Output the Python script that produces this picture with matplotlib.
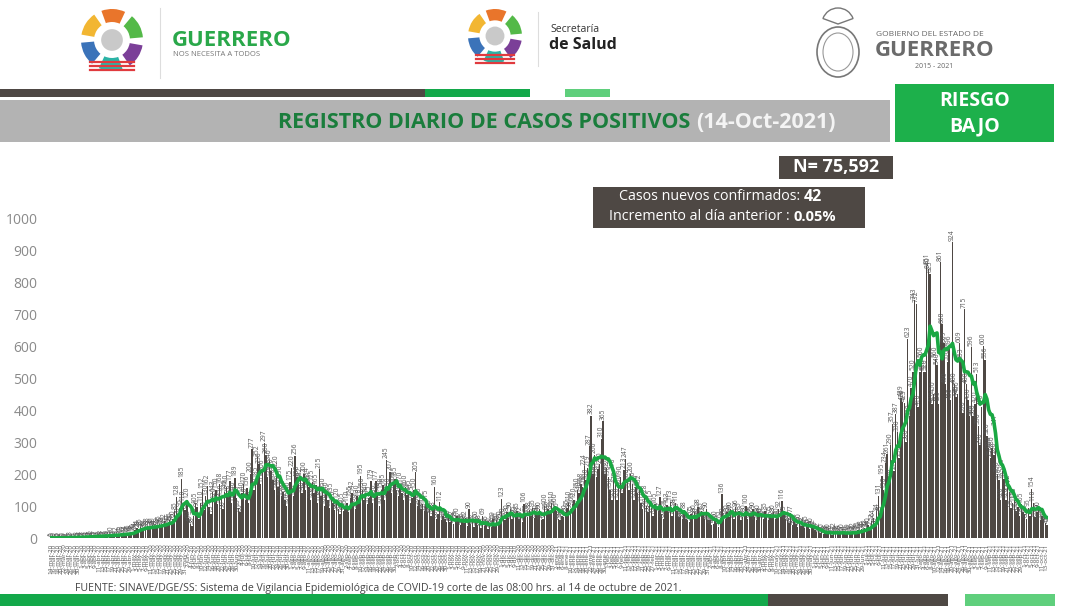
import numpy as np
import pandas as pd
import matplotlib
matplotlib.use("Agg")
import matplotlib.pyplot as plt
import matplotlib.patches as mpatches

# casos positivos diarios, 14-mar-2020 .. 14-oct-2021
mar20 = [1, 0, 0, 1, 0, 2, 1, 0, 1, 2, 1, 3, 2, 1, 2, 3, 2, 4]
abr20 = [3, 2, 5, 4, 3, 6, 4, 5, 7, 3, 6, 8, 5, 7, 9, 6, 8, 10, 7, 9,
         12, 8, 11, 13, 10, 14, 12, 16, 13, 18]
may20 = [20, 24, 31, 28, 35, 30, 26, 33, 38, 29, 36, 41, 34, 30, 39, 45, 37, 43, 52, 40,
         47, 55, 48, 60, 85, 128, 70, 95, 185, 110, 88]
jun20 = [120, 62, 45, 38, 70, 105, 96, 58, 110, 152, 88, 130, 162, 98, 75, 143, 120, 150, 105, 168,
         130, 90, 145, 160, 128, 177, 110, 140, 189, 125]
jul20 = [95, 80, 140, 170, 120, 156, 110, 200, 277, 150, 185, 252, 230, 170, 206, 297, 260, 190, 240, 210,
         180, 150, 220, 160, 190, 130, 145, 120, 100, 140, 175]
ago20 = [220, 130, 256, 190, 170, 182, 140, 200, 150, 184, 160, 120, 175, 140, 165, 110, 215, 130, 150, 100,
         140, 120, 95, 135, 110, 88, 120, 92, 75, 105, 85]
sep20 = [95, 110, 80, 125, 142, 100, 90, 130, 118, 195, 150, 120, 140, 105, 125, 179, 110, 130, 177, 140,
         100, 150, 165, 120, 245, 150, 207, 140, 169, 185]
oct20 = [150, 130, 170, 140, 120, 160, 135, 145, 110, 125, 150, 205, 100, 120, 90, 105, 85, 115, 80, 95,
         70, 88, 160, 60, 75, 112, 55, 70, 60, 50, 65]
nov20 = [50, 62, 45, 58, 70, 52, 40, 55, 48, 62, 38, 90, 45, 52, 35, 60, 42, 48, 30, 69,
         38, 45, 28, 40, 35, 59, 42, 55, 48, 60]
dic20 = [123, 70, 55, 80, 62, 90, 58, 75, 68, 85, 60, 72, 50, 106, 78, 65, 88, 70, 95, 62,
         80, 74, 90, 55, 60, 100, 85, 92, 78, 110, 95]
ene21 = [100, 85, 60, 55, 70, 65, 80, 95, 110, 90, 105, 120, 95, 150, 140, 168, 158, 224, 180, 219,
         287, 382, 200, 260, 190, 215, 230, 310, 365, 200, 220]
feb21 = [190, 150, 120, 210, 170, 120, 160, 190, 140, 213, 247, 180, 150, 200, 170, 120, 160, 140, 162, 110,
         90, 128, 100, 80, 115, 95, 70, 105]
mar21 = [90, 85, 127, 75, 60, 95, 103, 80, 113, 70, 98, 110, 85, 65, 70, 58, 88, 60, 55, 50,
         75, 62, 80, 70, 98, 65, 85, 72, 60, 90, 55]
abr21 = [55, 40, 45, 60, 48, 35, 62, 136, 70, 58, 80, 65, 90, 75, 60, 96, 70, 85, 55, 65,
         80, 100, 60, 70, 75, 90, 65, 55, 80, 70]
may21 = [70, 60, 85, 65, 55, 75, 62, 80, 58, 70, 92, 65, 116, 75, 60, 55, 48, 77, 40, 52,
         45, 35, 50, 38, 42, 30, 45, 35, 28, 40, 32]
jun21 = [25, 18, 22, 15, 20, 12, 18, 14, 20, 16, 10, 22, 15, 18, 12, 17, 20, 14, 11, 19,
         16, 13, 22, 18, 15, 25, 20, 28, 24, 32]
jul21 = [30, 40, 25, 52, 64, 38, 84, 131, 75, 195, 150, 234, 261, 180, 290, 357, 210, 387, 330, 250,
         439, 426, 423, 300, 623, 380, 470, 520, 743, 732, 410]
ago21 = [520, 560, 520, 520, 851, 840, 825, 420, 450, 560, 540, 420, 861, 668, 609, 480, 550, 596, 430, 924,
         480, 440, 450, 609, 553, 390, 715, 480, 430, 380, 596]
sep21 = [380, 420, 513, 350, 290, 410, 600, 556, 320, 280, 250, 280, 260, 347, 200, 180, 120, 210, 183, 120,
         162, 144, 95, 110, 120, 85, 98, 70, 105, 80]
oct21 = [75, 60, 95, 70, 154, 110, 65, 80, 90, 55, 70, 60, 48, 42]

casos = (mar20 + abr20 + may20 + jun20 + jul20 + ago20 + sep20 + oct20 + nov20 + dic20 +
         ene21 + feb21 + mar21 + abr21 + may21 + jun21 + jul21 + ago21 + sep21 + oct21)
fechas = pd.date_range("2020-03-14", periods=len(casos), freq="D")
meses = ["ene", "feb", "mar", "abr", "may", "jun", "jul", "ago", "sep", "oct", "nov", "dic"]
etiquetas = [f"{d.day}-{meses[d.month - 1]}-{d.year % 100}" for d in fechas]

titulo = "REGISTRO DIARIO DE CASOS POSITIVOS"
fecha_corte = "(14-Oct-2021)"
total_n = "N= 75,592"
nuevos = "42"
incremento = "0.05%"
fuente = ("FUENTE: SINAVE/DGE/SS: Sistema de Vigilancia Epidemiológica de COVID-19 "
          "corte de las 08:00 hrs. al 14 de octubre de 2021.")

GRIS = "#4e4844"
VERDE = "#13a84a"
VERDE_CLARO = "#5fcf7c"

plt.rcParams["font.family"] = ["Open Sans", "DejaVu Sans"]

W, H = 1080, 608
fig = plt.figure(figsize=(W / 100, H / 100), dpi=100)
fig.patch.set_facecolor("white")

# capa de fondo en pixeles
bg = fig.add_axes([0, 0, 1, 1])
bg.set_xlim(0, W)
bg.set_ylim(H, 0)
bg.axis("off")


def caja(x0, y0, x1, y1, color):
    bg.add_patch(mpatches.Rectangle((x0, y0), x1 - x0, y1 - y0, color=color, lw=0))


# barras superiores
caja(0, 89, 425, 97, GRIS)
caja(425, 89, 530, 97, VERDE)
caja(565, 89, 610, 97, VERDE_CLARO)
# banda gris del titulo
caja(0, 100, 890, 142, "#b3b3b3")
# riesgo
caja(895, 84, 1054, 142, "#1db04b")
bg.text(975, 101, "RIESGO", color="white", fontsize=14, fontweight="bold", ha="center", va="center")
bg.text(975, 126, "BAJO", color="white", fontsize=14, fontweight="bold", ha="center", va="center")

t1 = bg.text(278, 122, titulo + " ", color="#1a7d3c", fontsize=15.5, fontweight="bold",
             ha="left", va="center")
bg.annotate(fecha_corte, xy=(1, 0.5), xycoords=t1, color="#f4f4f4", fontsize=15.5,
            fontweight="bold", ha="left", va="center")

# N total
caja(779, 156, 893, 179, GRIS)
bg.text(836, 167.5, total_n, color="white", fontsize=13, fontweight="bold", ha="center", va="center")
# recuadro de casos nuevos
caja(593, 187, 865, 228, GRIS)
a1 = bg.text(619, 197, "Casos nuevos confirmados: ", color="white", fontsize=10.3, ha="left", va="center")
bg.annotate(nuevos, xy=(1, 0.5), xycoords=a1, color="white", fontsize=11.5, fontweight="bold",
            ha="left", va="center")
a2 = bg.text(609, 217, "Incremento al día anterior : ", color="white", fontsize=10.3, ha="left", va="center")
bg.annotate(incremento, xy=(1, 0.5), xycoords=a2, color="white", fontsize=10.5, fontweight="bold",
            ha="left", va="center")

# barras inferiores
caja(0, 594, 768, 606, VERDE)
caja(768, 594, 948, 606, GRIS)
caja(965, 594, 1055, 606, VERDE_CLARO)
bg.text(75, 589, fuente, color="#444444", fontsize=7.6, ha="left", va="center")


# logotipos (aproximados)
def logo(cx, cy, r):
    colores = ["#7b3f98", "#2bb3a6", "#3b73b9", "#f2b632", "#e9752b", "#54b948"]
    for k, c in enumerate(colores):
        bg.add_patch(mpatches.Wedge((cx, cy), r, 60 * k + 10, 60 * k + 55, width=r * 0.42,
                                    color=c, lw=0))
    bg.add_patch(mpatches.Circle((cx, cy), r * 0.35, color="#c9c9c9", lw=0))
    for j in range(3):
        bg.plot([cx - r * 0.7, cx + r * 0.7], [cy + r * 0.72 + j * 4, cy + r * 0.72 + j * 4],
                color="#e03a3e", lw=1.6)


logo(112, 40, 31)
bg.plot([160, 160], [8, 78], color="#dddddd", lw=0.8)
bg.text(172, 40, "GUERRERO", color="#2aa84a", fontsize=16, fontweight="bold", ha="left", va="center")
bg.text(173, 55, "NOS NECESITA A TODOS", color="#777777", fontsize=5.5, ha="left", va="center")

logo(495, 36, 27)
bg.plot([538, 538], [12, 66], color="#dddddd", lw=0.8)
bg.text(550, 29, "Secretaría", color="#333333", fontsize=7.5, ha="left", va="center")
bg.text(549, 45, "de Salud", color="#222222", fontsize=11.5, fontweight="bold", ha="left", va="center")

bg.add_patch(mpatches.Ellipse((838, 52), 42, 50, fill=False, ec="#777777", lw=1.2))
bg.add_patch(mpatches.Ellipse((838, 52), 30, 38, fill=False, ec="#999999", lw=0.8))
bg.add_patch(mpatches.Wedge((838, 24), 16, 200, 340, fill=False, ec="#777777", lw=1.0))
bg.text(876, 35, "GOBIERNO DEL ESTADO DE", color="#666666", fontsize=6, ha="left", va="center")
bg.text(875, 51, "GUERRERO", color="#6b6b6b", fontsize=16, fontweight="bold", ha="left", va="center")
bg.text(934, 67, "2015 - 2021", color="#666666", fontsize=5, ha="center", va="center")

# grafica principal
ax = fig.add_axes([50 / W, 1 - 538 / H, 998 / W, 320 / H])
ax.set_facecolor("none")
x = np.arange(len(casos))
ax.bar(x, casos, width=0.82, color=GRIS, zorder=2)
promedio = pd.Series(casos).rolling(7, min_periods=1).mean()
ax.plot(x, promedio, color="#1aa843", lw=2.6, zorder=5, solid_capstyle="round")

for i, v in enumerate(casos):
    ax.text(i, v + 5, str(v), rotation=90, fontsize=4.8, color="#555555",
            ha="center", va="bottom", zorder=3, clip_on=False)

ax.set_xlim(-0.5, len(casos) - 0.5)
ax.set_ylim(0, 1000)
ax.set_yticks(range(0, 1001, 100))
ax.tick_params(axis="y", length=0, pad=9, labelsize=10, labelcolor="#8a8a8a")
ax.set_xticks(x[::2])
ax.set_xticklabels(etiquetas[::2], rotation=90, fontsize=4.5, color="#555555")
ax.tick_params(axis="x", length=0, pad=4)
for s in ax.spines.values():
    s.set_visible(False)

fig.savefig("out.png", dpi=100, facecolor="white")
